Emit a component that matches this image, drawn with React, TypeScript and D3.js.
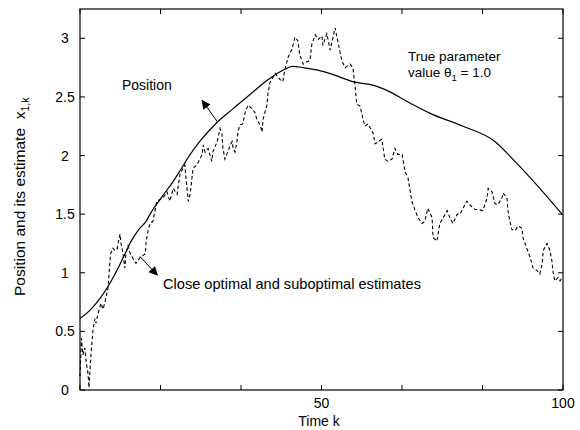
import React from "react";
import * as d3 from "d3";

const positionK = [0, 2.3, 4.3, 6.2, 7.9, 9.3, 10.6, 12.4, 13.7, 14.5, 17, 19.3, 20.7, 22.5, 24.8, 28.3, 31.7, 35.2, 38.7, 42.1, 44, 46.2, 49.0, 52.4, 56.5, 61.5, 64.8, 66.9, 72.5, 79.3, 85.9, 89.6, 95.2, 99.8];
const positionV = [0.61, 0.69, 0.79, 0.91, 1.04, 1.16, 1.27, 1.38, 1.44, 1.5, 1.65, 1.78, 1.87, 1.99, 2.12, 2.28, 2.4, 2.52, 2.64, 2.73, 2.76, 2.75, 2.73, 2.69, 2.63, 2.59, 2.53, 2.48, 2.36, 2.25, 2.12, 1.97, 1.72, 1.5];

const estimateK = [0, 0.3, 0.6, 1.0, 1.3, 1.66, 1.86, 2.28, 2.69, 3.1, 3.3, 3.73, 4.35, 4.76, 5.18, 5.38, 5.8, 6.2, 6.4, 6.8, 7.25, 7.66, 8.28, 8.5, 8.9, 9.3, 9.5, 9.94, 10.35, 11.0, 11.6, 12.0, 12.4, 13.5, 13.7, 14.1, 14.5, 15.1, 15.9, 17.2, 18.0, 18.6, 19.3, 20.1, 20.7, 21.7, 22.4, 22.8, 23.4, 24.2, 25.3, 25.5, 25.9, 26.5, 27.3, 27.5, 28.4, 29.0, 29.4, 29.6, 30.0, 30.6, 31.1, 31.5, 31.7, 32.1, 32.5, 32.7, 33.1, 33.7, 34.2, 34.8, 35.6, 36.2, 36.6, 37.3, 37.7, 37.9, 38.3, 38.7, 38.9, 39.3, 40.4, 41.4, 42.0, 42.4, 43.1, 43.9, 44.5, 45.1, 45.5, 46.2, 47.0, 47.6, 48.0, 48.7, 49.3, 50.1, 50.3, 51.1, 51.8, 52.4, 52.8, 53.4, 54.2, 54.9, 55.9, 56.5, 56.9, 57.3, 58.0, 58.6, 59.0, 59.6, 60.7, 61.1, 62.5, 63.1, 63.8, 64.6, 65.2, 65.8, 66.7, 67.3, 67.9, 68.7, 69.4, 70.0, 70.8, 71.4, 72.0, 72.9, 73.1, 73.9, 74.5, 75.2, 76.0, 76.6, 77.2, 78.1, 78.7, 79.3, 80.1, 80.7, 81.8, 82.4, 83.4, 84.3, 84.5, 85.3, 85.9, 86.5, 87.4, 87.6, 88.4, 88.6, 89.0, 89.4, 90.1, 90.7, 91.5, 91.7, 92.5, 93.2, 93.8, 94.6, 95.2, 95.7, 95.9, 96.7, 97.3, 97.7, 97.9, 98.3, 99.0, 99.4, 99.8];
const estimateV = [0.12, 0.44, 0.3, 0.36, 0.23, 0.14, 0.02, 0.31, 0.51, 0.61, 0.57, 0.65, 0.74, 0.69, 0.75, 0.79, 0.87, 1.1, 1.17, 1.21, 1.19, 1.2, 1.33, 1.25, 1.16, 1.04, 1.16, 1.23, 1.17, 1.12, 1.08, 1.1, 1.13, 1.16, 1.27, 1.36, 1.42, 1.44, 1.61, 1.64, 1.69, 1.61, 1.72, 1.67, 1.84, 1.92, 1.61, 1.67, 1.89, 1.92, 2.01, 2.09, 2.03, 2.06, 1.95, 2.03, 2.12, 2.23, 2.18, 2.06, 1.97, 2.03, 2.09, 2.12, 2.06, 2.03, 2.12, 2.2, 2.26, 2.27, 2.37, 2.43, 2.4, 2.37, 2.31, 2.26, 2.2, 2.31, 2.37, 2.43, 2.52, 2.62, 2.7, 2.65, 2.63, 2.73, 2.84, 2.91, 3.01, 2.98, 2.86, 2.78, 2.8, 2.81, 2.95, 3.03, 2.99, 3.02, 2.94, 3.04, 2.9, 3.01, 3.09, 2.97, 2.81, 2.75, 2.78, 2.75, 2.61, 2.44, 2.42, 2.31, 2.25, 2.27, 2.19, 2.1, 2.14, 1.97, 1.95, 1.97, 2.06, 2.01, 2.01, 1.86, 1.81, 1.61, 1.53, 1.47, 1.42, 1.44, 1.55, 1.47, 1.3, 1.27, 1.42, 1.47, 1.53, 1.47, 1.42, 1.5, 1.5, 1.55, 1.61, 1.58, 1.54, 1.54, 1.53, 1.64, 1.72, 1.69, 1.59, 1.58, 1.64, 1.68, 1.64, 1.53, 1.44, 1.37, 1.36, 1.4, 1.38, 1.3, 1.21, 1.13, 1.04, 1.02, 0.99, 1.08, 1.19, 1.25, 1.19, 1.1, 1.02, 0.93, 0.96, 0.93, 0.96];

const xTicks = [0, 100 / 6, 200 / 6, 50, 400 / 6, 500 / 6, 100];
const xTickLabels: Record<number, string> = { 50: "50", 100: "100" };
const yTicks = [0, 0.5, 1, 1.5, 2, 2.5, 3];
const yTickLabels = ["0", "0.5", "1", "1.5", "2", "2.5", "3"];

// annotation arrows in data coords: [fromK, fromV, toK, toV]
const positionArrow = [28.4, 2.29, 25.3, 2.47];
const estimateArrow = [12.4, 1.14, 16.0, 0.98];

const FONT = "'Liberation Sans', Arial, Helvetica, sans-serif";

export default function App() {
  const W = 580, H = 430;
  const left = 80, right = 563, top = 9, bottom = 390;
  const x = d3.scaleLinear().domain([0, 100]).range([left, right]);
  const y = d3.scaleLinear().domain([0, 3.25]).range([bottom, top]);

  const posData = positionK.map((k, i) => [k, positionV[i]] as [number, number]);
  const estData = estimateK.map((k, i) => [k, estimateV[i]] as [number, number]);
  const smooth = d3.line<[number, number]>().x(d => x(d[0])).y(d => y(d[1])).curve(d3.curveMonotoneX);
  const line = d3.line<[number, number]>().x(d => x(d[0])).y(d => y(d[1]));

  const tick = 5;
  const arrow = (a: number[]) => ({ x1: x(a[0]), y1: y(a[1]), x2: x(a[2]), y2: y(a[3]) });
  const pa = arrow(positionArrow);
  const ea = arrow(estimateArrow);

  return (
    <svg width={W} height={H} style={{ position: "absolute", left: 0, top: 0, background: "#fff" }} fontFamily={FONT}>
      <defs>
        <marker id="ah" viewBox="0 0 10 10" refX="9" refY="5" markerWidth="11" markerHeight="9" markerUnits="userSpaceOnUse" orient="auto">
          <path d="M0,0 L10,5 L0,10 z" fill="#000" />
        </marker>
      </defs>
      <rect x={0} y={0} width={W} height={H} fill="#fff" />
      <rect x={left} y={top} width={right - left} height={bottom - top} fill="none" stroke="#000" strokeWidth={1.2} />
      {xTicks.map((t, i) => (
        <g key={"xt" + i}>
          <line x1={x(t)} x2={x(t)} y1={bottom} y2={bottom - tick} stroke="#000" />
          <line x1={x(t)} x2={x(t)} y1={top} y2={top + tick} stroke="#000" />
          {xTickLabels[Math.round(t)] && Math.abs(t - Math.round(t)) < 1e-6 ? (
            <text x={x(t)} y={408} fontSize={14} textAnchor="middle">{xTickLabels[Math.round(t)]}</text>
          ) : null}
        </g>
      ))}
      {yTicks.map((t, i) => (
        <g key={"yt" + i}>
          <line x1={left} x2={left + tick} y1={y(t)} y2={y(t)} stroke="#000" />
          <line x1={right} x2={right - tick} y1={y(t)} y2={y(t)} stroke="#000" />
          <text x={65} y={y(t) + 5} fontSize={14} textAnchor="middle">{yTickLabels[i]}</text>
        </g>
      ))}
      <path d={smooth(posData) || ""} fill="none" stroke="#000" strokeWidth={1.2} />
      <path d={line(estData) || ""} fill="none" stroke="#000" strokeWidth={1.1} strokeDasharray="3.5,2.5" />
      <line x1={pa.x1} y1={pa.y1} x2={pa.x2} y2={pa.y2} stroke="#000" strokeWidth={1} markerEnd="url(#ah)" />
      <line x1={ea.x1} y1={ea.y1} x2={ea.x2} y2={ea.y2} stroke="#000" strokeWidth={1} markerEnd="url(#ah)" />
      <text x={122} y={90} fontSize={14}>Position</text>
      <text x={163} y={289} fontSize={14.6}>Close optimal and suboptimal estimates</text>
      <text x={408} y={61} fontSize={13.5}>True parameter</text>
      <text x={408} y={77} fontSize={13.5}>
        value θ<tspan fontSize={9.5} dy={3.5}>1</tspan><tspan dy={-3.5}> = 1.0</tspan>
      </text>
      <text x={319} y={426} fontSize={14} textAnchor="middle">Time k</text>
      <text transform="translate(25,296) rotate(-90)" fontSize={15.5}>
        Position and its estimate{"\u00A0\u00A0"}x<tspan fontSize={10.5} dy={4}>1,k</tspan>
      </text>
    </svg>
  );
}
